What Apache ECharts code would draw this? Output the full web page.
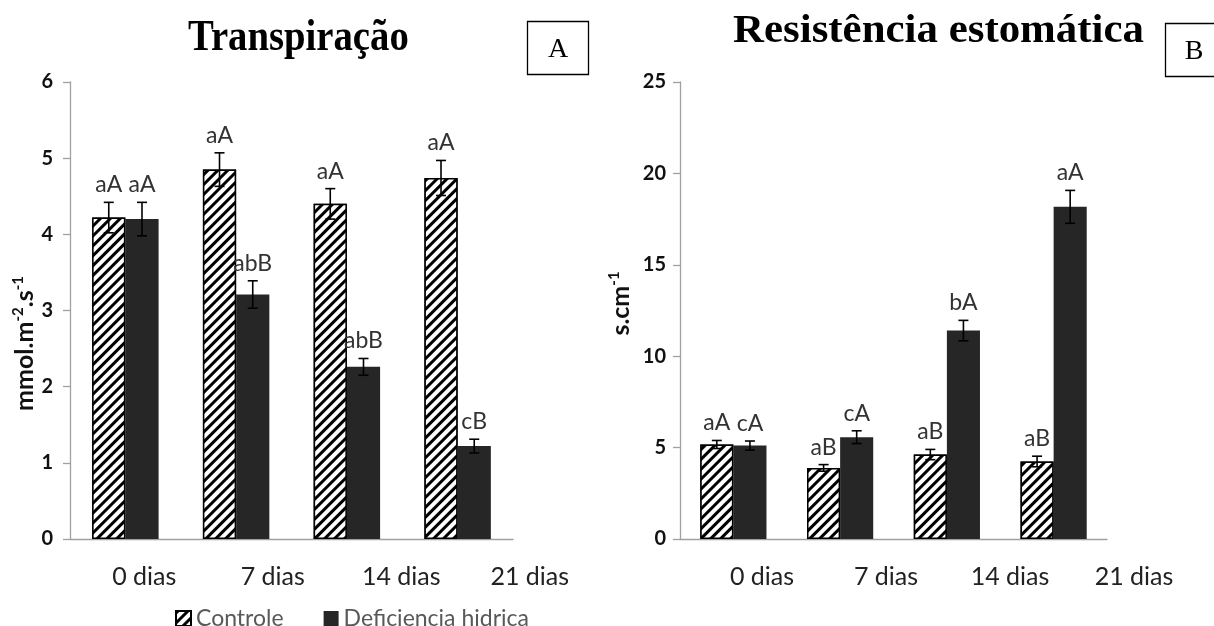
<!DOCTYPE html>
<html><head><meta charset="utf-8">
<script src="https://cdn.jsdelivr.net/npm/echarts@6/dist/echarts.min.js"></script>
<style>html,body{margin:0;padding:0;background:#fff}#c{width:1214px;height:626px}</style>
</head><body><div id="c"></div>
<script>
const categories = ['0 dias', '7 dias', '14 dias', '21 dias'];
const seriesNames = ['Controle', 'Deficiencia hidrica'];

const transCtrl = [4.22, 4.85, 4.40, 4.74];
const transCtrlErr = [0.20, 0.22, 0.20, 0.23];
const transCtrlLetters = ['aA', 'aA', 'aA', 'aA'];
const transDef = [4.20, 3.21, 2.26, 1.22];
const transDefErr = [0.22, 0.18, 0.11, 0.09];
const transDefLetters = ['aA', 'abB', 'abB', 'cB'];

const resCtrl = [5.17, 3.89, 4.62, 4.24];
const resCtrlErr = [0.22, 0.18, 0.28, 0.29];
const resCtrlLetters = ['aA', 'aB', 'aB', 'aB'];
const resDef = [5.11, 5.57, 11.40, 18.17];
const resDefErr = [0.25, 0.35, 0.56, 0.90];
const resDefLetters = ['cA', 'cA', 'bA', 'aA'];

const transTicks = [0, 6, 1];
const resTicks = [0, 25, 5];

const FONT = 'Lato';
const hatch = {
  symbol: 'rect', symbolSize: 1, color: '#000', backgroundColor: '#fff',
  dashArrayX: [1, 0], dashArrayY: [3, 4], rotation: -Math.PI / 4
};
const ctrlStyle = { color: '#fff', borderColor: '#000', borderWidth: 1.5, decal: hatch };
const defStyle = { color: '#262626' };

function errSeries(name, axisIdx, vals, errs, letters, side, frac) {
  return {
    type: 'custom', name: name + ' err', xAxisIndex: axisIdx, yAxisIndex: axisIdx,
    z: 10, silent: true,
    data: vals.map((v, i) => [i, v, errs[i]]),
    renderItem: function (params, api) {
      const i = api.value(0), v = api.value(1), e = api.value(2);
      const bandW = api.size([1, 0])[0];
      const w = bandW * frac;
      const top = api.coord([i, v + e]);
      const bot = api.coord([i, v - e]);
      const x = top[0] + side * w / 2;
      const cap = 5;
      const st = { stroke: '#000', lineWidth: 1.6 };
      return {
        type: 'group', children: [
          { type: 'line', shape: { x1: x, y1: top[1], x2: x, y2: bot[1] }, style: st },
          { type: 'line', shape: { x1: x - cap, y1: top[1], x2: x + cap, y2: top[1] }, style: st },
          { type: 'line', shape: { x1: x - cap, y1: bot[1], x2: x + cap, y2: bot[1] }, style: st },
          { type: 'text', x: x, y: top[1] - 6,
            style: { text: letters[params.dataIndex], fill: '#333', font: '23px ' + FONT,
                     align: 'center', verticalAlign: 'bottom' } }
        ]
      };
    }
  };
}

const axisLineStyle = { color: '#a0a0a0', width: 1.3 };

function yAx(idx, t, nameRich, gap, pad, margin) {
  return {
    type: 'value', gridIndex: idx, min: t[0], max: t[1], interval: t[2],
    splitLine: { show: false },
    axisLine: { show: true, lineStyle: axisLineStyle },
    axisTick: { show: true, length: 7, lineStyle: axisLineStyle },
    axisLabel: { color: '#111', fontFamily: FONT, fontWeight: 'bold', fontSize: 20, margin: margin },
    name: nameRich, nameLocation: 'middle', nameGap: gap, nameRotate: 90,
    nameTextStyle: {
      color: '#111', fontFamily: FONT, fontWeight: 'bold', fontSize: 25, padding: pad,
      rich: {
        b: { fontFamily: FONT, fontWeight: 'bold', fontSize: 25, color: '#111' },
        sup: { fontFamily: FONT, fontWeight: 'bold', fontSize: 15, color: '#111', verticalAlign: 'top', padding: [0, 0, 12, 0] }
      }
    }
  };
}

const option = {
  backgroundColor: '#fff',
  animation: false,
  grid: [
    { left: 70, right: 701, top: 82, bottom: 87 },
    { left: 680, right: 107, top: 82, bottom: 87 },
    { left: 80, right: 620, top: 82, bottom: 87 },
    { left: 700, right: 18, top: 82, bottom: 87 }
  ],
  xAxis: [
    { type: 'category', gridIndex: 0, data: categories, axisLine: { lineStyle: axisLineStyle }, axisTick: { show: false }, axisLabel: { show: false } },
    { type: 'category', gridIndex: 1, data: categories, axisLine: { lineStyle: axisLineStyle }, axisTick: { show: false }, axisLabel: { show: false } },
    { type: 'category', gridIndex: 2, data: categories, axisLine: { show: false }, axisTick: { show: false },
      axisLabel: { color: '#222', fontFamily: FONT, fontSize: 25, margin: 25 } },
    { type: 'category', gridIndex: 3, data: categories, axisLine: { show: false }, axisTick: { show: false },
      axisLabel: { color: '#222', fontFamily: FONT, fontSize: 25, margin: 25 } }
  ],
  yAxis: [
    yAx(0, transTicks, '{b|mmol.m}{sup|-2}{b|.s}{sup|-1}', 32, [0, 66, 0, 0], 17),
    yAx(1, resTicks, '{b|s.cm}{sup|-1}', 46, [0, 0, 0, 14], 14),
    { type: 'value', gridIndex: 2, show: false, min: 0, max: 1 },
    { type: 'value', gridIndex: 3, show: false, min: 0, max: 1 }
  ],
  legend: {
    data: seriesNames, left: 170, top: 602, itemWidth: 15, itemHeight: 15, itemGap: 40,
    icon: 'rect',
    textStyle: { color: '#595959', fontFamily: FONT, fontSize: 23, padding: [0, 0, 0, 0] }
  },
  series: [
    { type: 'bar', name: seriesNames[0], xAxisIndex: 0, yAxisIndex: 0, data: transCtrl, barWidth: '30%', barGap: '0%', itemStyle: ctrlStyle },
    { type: 'bar', name: seriesNames[1], xAxisIndex: 0, yAxisIndex: 0, data: transDef, barWidth: '30%', barGap: '0%', itemStyle: defStyle },
    { type: 'bar', name: seriesNames[0], xAxisIndex: 1, yAxisIndex: 1, data: resCtrl, barWidth: '31%', barGap: '0%', itemStyle: ctrlStyle },
    { type: 'bar', name: seriesNames[1], xAxisIndex: 1, yAxisIndex: 1, data: resDef, barWidth: '31%', barGap: '0%', itemStyle: defStyle },
    errSeries('c1', 0, transCtrl, transCtrlErr, transCtrlLetters, -1, 0.30),
    errSeries('d1', 0, transDef, transDefErr, transDefLetters, 1, 0.30),
    errSeries('c2', 1, resCtrl, resCtrlErr, resCtrlLetters, -1, 0.31),
    errSeries('d2', 1, resDef, resDefErr, resDefLetters, 1, 0.31)
  ],
  graphic: [
    { type: 'text', left: 188, top: 16, scaleX: 0.86,
      style: { text: 'Transpiração', font: 'bold 45px "Liberation Serif"', fill: '#000' } },
    { type: 'rect', shape: { x: 527.5, y: 21.5, width: 61, height: 53 }, style: { fill: '#fff', stroke: '#000', lineWidth: 1.3 } },
    { type: 'text', x: 558, y: 50, style: { text: 'A', font: '28px "Liberation Serif"', fill: '#000', align: 'center', verticalAlign: 'middle' } },
    { type: 'text', left: 733, top: 12, scaleX: 1.1,
      style: { text: 'Resistência estomática', font: 'bold 39px "Liberation Serif"', fill: '#000' } },
    { type: 'rect', shape: { x: 1165.5, y: 23.5, width: 60, height: 53 }, style: { fill: '#fff', stroke: '#000', lineWidth: 1.3 } },
    { type: 'text', x: 1194, y: 52, style: { text: 'B', font: '28px "Liberation Serif"', fill: '#000', align: 'center', verticalAlign: 'middle' } }
  ]
};
const chart = echarts.init(document.getElementById('c'), null, { renderer: 'canvas' });
chart.setOption(option);
</script></body></html>
